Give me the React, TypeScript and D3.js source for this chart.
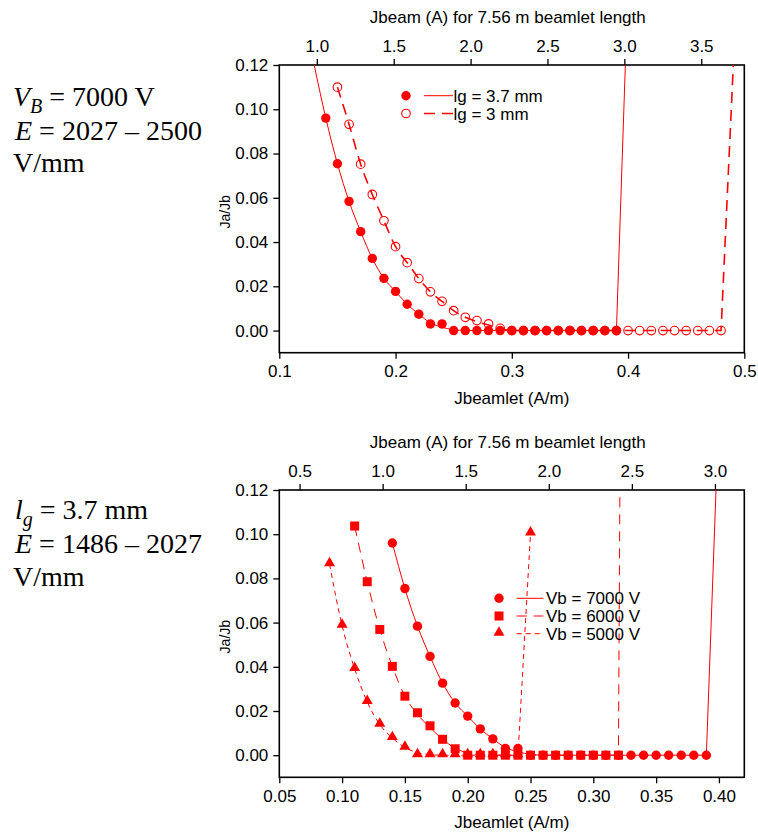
import React, { useEffect, useRef } from "react";
import * as d3 from "d3";

// lg = 3.7 mm (top plot, filled circles) / Vb = 7000 V (bottom plot)
const jb37 = [0.14, 0.15, 0.16, 0.17, 0.18, 0.19, 0.2, 0.21, 0.22, 0.23, 0.24, 0.25, 0.26, 0.27, 0.28, 0.29, 0.3, 0.31, 0.32, 0.33, 0.34, 0.35, 0.36, 0.37, 0.38, 0.39];
const ja37 = [0.096, 0.0754, 0.0584, 0.0447, 0.0326, 0.0236, 0.0177, 0.0119, 0.0074, 0.003, 0.003, 0, 0, 0, 0, 0, 0, 0, 0, 0, 0, 0, 0, 0, 0, 0];
const fit37X = [0.13, 0.14, 0.15, 0.16, 0.17, 0.18, 0.19, 0.2, 0.21, 0.22, 0.23, 0.24, 0.25, 0.26, 0.39, 0.398];
const fit37Y = [0.12, 0.096, 0.0754, 0.0584, 0.0447, 0.0326, 0.0236, 0.0177, 0.0119, 0.0074, 0.0035, 0.0015, 0.0004, 0, 0, 0.125];

// lg = 3 mm (top plot, open circles)
const jb3 = [0.15, 0.16, 0.17, 0.18, 0.19, 0.2, 0.21, 0.22, 0.23, 0.24, 0.25, 0.26, 0.27, 0.28, 0.29, 0.3, 0.31, 0.32, 0.33, 0.34, 0.35, 0.36, 0.37, 0.38, 0.39, 0.4, 0.41, 0.42, 0.43, 0.44, 0.45, 0.46, 0.47, 0.48];
const ja3 = [0.110, 0.0932, 0.0752, 0.0615, 0.0496, 0.0379, 0.0307, 0.0235, 0.0175, 0.0132, 0.009, 0.006, 0.0045, 0.003, 0.001, 0, 0, 0, 0, 0, 0, 0, 0, 0, 0, 0, 0, 0, 0, 0, 0, 0, 0, 0];
const fit3X = [0.15, 0.16, 0.17, 0.18, 0.19, 0.2, 0.21, 0.22, 0.23, 0.24, 0.25, 0.26, 0.27, 0.28, 0.29, 0.3, 0.48, 0.491];
const fit3Y = [0.110, 0.0932, 0.0752, 0.0615, 0.0496, 0.0379, 0.0307, 0.0235, 0.0175, 0.0132, 0.009, 0.006, 0.004, 0.0025, 0.001, 0, 0, 0.125];

// Vb = 6000 V (bottom plot, squares)
const jb6 = [0.11, 0.12, 0.13, 0.14, 0.15, 0.16, 0.17, 0.18, 0.19, 0.2, 0.21, 0.22, 0.23, 0.24, 0.25, 0.26, 0.27, 0.28, 0.29, 0.3, 0.31, 0.32];
const ja6 = [0.1037, 0.0785, 0.0569, 0.0402, 0.0267, 0.0192, 0.0133, 0.0072, 0.0029, 0, 0, 0, 0, 0, 0, 0, 0, 0, 0, 0, 0, 0];
const fit6X = [0.11, 0.12, 0.13, 0.14, 0.15, 0.16, 0.17, 0.18, 0.19, 0.2, 0.21, 0.22, 0.32, 0.3212];
const fit6Y = [0.1037, 0.0785, 0.0569, 0.0402, 0.0267, 0.0185, 0.0125, 0.0072, 0.0032, 0.001, 0.0002, 0, 0, 0.125];

// Vb = 5000 V (bottom plot, triangles)
const jb5 = [0.09, 0.1, 0.11, 0.12, 0.13, 0.14, 0.15, 0.16, 0.17, 0.18, 0.19, 0.2, 0.21, 0.22, 0.23, 0.24, 0.25];
const ja5 = [0.0865, 0.0586, 0.0391, 0.0241, 0.0139, 0.0078, 0.0035, 0, 0, 0, 0, 0, 0, 0, 0, 0, 0.1004];
const fit5X = [0.09, 0.1, 0.11, 0.12, 0.13, 0.14, 0.15, 0.16, 0.17, 0.18, 0.24, 0.25];
const fit5Y = [0.0865, 0.0586, 0.0391, 0.0241, 0.0139, 0.0078, 0.0035, 0.0012, 0.0003, 0, 0, 0.1004];

const yTicks = [0, 0.02, 0.04, 0.06, 0.08, 0.1, 0.12];
const topXTicks1 = [0.1, 0.2, 0.3, 0.4, 0.5];
const topBeamTicks1 = [1.0, 1.5, 2.0, 2.5, 3.0, 3.5];
const botXTicks2 = [0.05, 0.1, 0.15, 0.2, 0.25, 0.3, 0.35, 0.4];
const botBeamTicks2 = [0.5, 1.0, 1.5, 2.0, 2.5, 3.0];

const legend1 = ["lg = 3.7 mm", "lg = 3 mm"];
const legend2 = ["Vb = 7000 V", "Vb = 6000 V", "Vb = 5000 V"];

const beamletLength = 7.56;
const RED = "#ff0000";
const SANS = "'Liberation Sans', Arial, Helvetica, sans-serif";
const SERIF = "'Liberation Serif', 'Times New Roman', serif";

const App = () => {
    const ref = useRef<SVGGElement>(null);

    useEffect(() => {
        const root = d3.select(ref.current);
        root.selectAll("*").remove();

        const zip = (xs: number[], ys: number[]) => xs.map((x, i) => [x, ys[i]] as [number, number]);

        const panel = (opts: any) => {
            const {left, right, top, bottom, xDomain, xTicks, xFmt, beamTicks, id} = opts;
            const x = d3.scaleLinear().domain(xDomain).range([left, right]);
            const xb = d3.scaleLinear().domain([xDomain[0] * beamletLength, xDomain[1] * beamletLength]).range([left, right]);
            const y = d3.scaleLinear().domain([-0.01, 0.12]).range([bottom, top]);
            const g = root.append("g");

            const styleAxis = (sel: any) => {
                sel.select(".domain").remove();
                sel.selectAll("line").attr("stroke", "#000").attr("stroke-width", 1.3);
                sel.selectAll("text").attr("font-size", 17).attr("font-family", SANS).attr("fill", "#000");
            };

            g.append("g").attr("transform", `translate(${left},0)`)
                .call(d3.axisLeft(y).tickValues(yTicks).tickFormat(d3.format(".2f")).tickSize(6).tickPadding(5))
                .call(styleAxis);
            g.append("g").attr("transform", `translate(0,${bottom})`)
                .call(d3.axisBottom(x).tickValues(xTicks).tickFormat(d3.format(xFmt)).tickSize(6).tickPadding(6.5))
                .call(styleAxis);
            g.append("g").attr("transform", `translate(0,${top})`)
                .call(d3.axisTop(xb).tickValues(beamTicks).tickFormat(d3.format(".1f")).tickSize(6).tickPadding(7.5))
                .call(styleAxis);

            g.append("rect").attr("x", left).attr("y", top).attr("width", right - left).attr("height", bottom - top)
                .attr("fill", "none").attr("stroke", "#000").attr("stroke-width", 1.6);

            g.append("text").attr("x", (left + right) / 2).attr("y", bottom + 51).attr("text-anchor", "middle")
                .attr("font-family", SANS).attr("font-size", 17).text("Jbeamlet (A/m)");
            g.append("text").attr("x", (left + right) / 2 - 4).attr("y", top - 42).attr("text-anchor", "middle")
                .attr("font-family", SANS).attr("font-size", 17).text("Jbeam (A) for 7.56 m beamlet length");
            g.append("text").attr("transform", `translate(${left - 49},${(top + bottom) / 2 + 3}) rotate(-90)`)
                .attr("text-anchor", "middle").attr("font-family", SANS).attr("font-size", 14).text("Ja/Jb");

            g.append("clipPath").attr("id", id).append("rect")
                .attr("x", left).attr("y", top).attr("width", right - left).attr("height", bottom - top);
            const plot = g.append("g").attr("clip-path", `url(#${id})`);
            const smooth = d3.line<[number, number]>().x(d => x(d[0])).y(d => y(d[1])).curve(d3.curveMonotoneX);
            // fitted curve: smooth body, straight final rise
            const fit = (pts: [number, number][], width: number, dash: string | null) => {
                const last = pts[pts.length - 1];
                const d = smooth(pts.slice(0, -1)) + `L${x(last[0])},${y(last[1])}`;
                plot.append("path").attr("d", d).attr("fill", "none").attr("stroke", RED)
                    .attr("stroke-width", width).attr("stroke-dasharray", dash);
            };
            return {x, y, g, plot, fit};
        };

        // ---------- top plot
        const p1 = panel({left: 279.3, right: 744.3, top: 65, bottom: 352.7, xDomain: [0.1, 0.5],
            xTicks: topXTicks1, xFmt: ".1f", beamTicks: topBeamTicks1, id: "clip1"});
        p1.fit(zip(fit3X, fit3Y), 1.6, "11,7");
        p1.fit(zip(fit37X, fit37Y), 1, null);
        p1.plot.selectAll(".open").data(zip(jb3, ja3)).join("circle")
            .attr("cx", d => p1.x(d[0])).attr("cy", d => p1.y(d[1])).attr("r", 4.3)
            .attr("fill", "none").attr("stroke", RED).attr("stroke-width", 1.1);
        p1.plot.selectAll(".filled").data(zip(jb37, ja37)).join("circle")
            .attr("cx", d => p1.x(d[0])).attr("cy", d => p1.y(d[1])).attr("r", 4.7).attr("fill", RED);

        const lg1 = p1.g.append("g");
        legend1.forEach((label, i) => {
            const ly = 95.7 + i * 17.8;
            if (i === 0) lg1.append("circle").attr("cx", 406).attr("cy", ly).attr("r", 4.7).attr("fill", RED);
            else lg1.append("circle").attr("cx", 406).attr("cy", ly).attr("r", 4.3).attr("fill", "none")
                .attr("stroke", RED).attr("stroke-width", 1.1);
            lg1.append("line").attr("x1", 424).attr("x2", 453).attr("y1", ly).attr("y2", ly).attr("stroke", RED)
                .attr("stroke-width", i === 0 ? 1 : 1.6).attr("stroke-dasharray", i === 0 ? null : "11,7");
            lg1.append("text").attr("x", 453.5).attr("y", ly + 6).attr("font-family", SANS).attr("font-size", 17).text(label);
        });

        // ---------- bottom plot
        const p2 = panel({left: 279.3, right: 744.3, top: 490, bottom: 777.3, xDomain: [0.05, 0.4202],
            xTicks: botXTicks2, xFmt: ".2f", beamTicks: botBeamTicks2, id: "clip2"});
        const dashes = [null, "10,7", "5,4"];
        p2.fit(zip(fit37X.slice(1), fit37Y.slice(1)), 1, dashes[0]);
        p2.fit(zip(fit6X, fit6Y), 1, dashes[1]);
        p2.fit(zip(fit5X, fit5Y), 1, dashes[2]);
        const tri = d3.symbol().type(d3.symbolTriangle).size(52);
        p2.plot.selectAll(".tri").data(zip(jb5, ja5)).join("path")
            .attr("d", tri).attr("transform", d => `translate(${p2.x(d[0])},${p2.y(d[1]) - 1})`).attr("fill", RED);
        p2.plot.selectAll(".sq").data(zip(jb6, ja6)).join("rect")
            .attr("x", d => p2.x(d[0]) - 4.5).attr("y", d => p2.y(d[1]) - 4.5).attr("width", 9).attr("height", 9).attr("fill", RED);
        p2.plot.selectAll(".circ").data(zip(jb37, ja37)).join("circle")
            .attr("cx", d => p2.x(d[0])).attr("cy", d => p2.y(d[1])).attr("r", 4.7).attr("fill", RED);

        const lg2 = p2.g.append("g");
        legend2.forEach((label, i) => {
            const ly = 598.3 + i * 17.7;
            if (i === 0) lg2.append("circle").attr("cx", 499).attr("cy", ly).attr("r", 4.7).attr("fill", RED);
            else if (i === 1) lg2.append("rect").attr("x", 494.5).attr("y", ly - 4.5).attr("width", 9).attr("height", 9).attr("fill", RED);
            else lg2.append("path").attr("d", tri).attr("transform", `translate(499,${ly - 1})`).attr("fill", RED);
            lg2.append("line").attr("x1", 516.7).attr("x2", 543.3).attr("y1", ly).attr("y2", ly).attr("stroke", RED)
                .attr("stroke-width", 1).attr("stroke-dasharray", dashes[i]);
            lg2.append("text").attr("x", 546).attr("y", ly + 6).attr("font-family", SANS).attr("font-size", 17).text(label);
        });
    }, []);

    return (
        <svg width={758} height={832} style={{position: "absolute", left: 0, top: 0, background: "#fff"}}>
            <g fontFamily={SERIF} fontSize={28} fill="#000">
                <text x={13} y={106}><tspan fontStyle="italic">V</tspan><tspan fontStyle="italic" fontSize={20} dy={7}>B</tspan><tspan dy={-7}> = 7000 V</tspan></text>
                <text x={15} y={140}><tspan fontStyle="italic">E</tspan> = 2027 – 2500</text>
                <text x={13} y={172}>V/mm</text>
                <text x={15} y={519}><tspan fontStyle="italic">l</tspan><tspan fontStyle="italic" fontSize={20} dy={7}>g</tspan><tspan dy={-7}> = 3.7 mm</tspan></text>
                <text x={15} y={553}><tspan fontStyle="italic">E</tspan> = 1486 – 2027</text>
                <text x={13} y={586}>V/mm</text>
            </g>
            <g ref={ref} />
        </svg>
    );
};

export default App;
